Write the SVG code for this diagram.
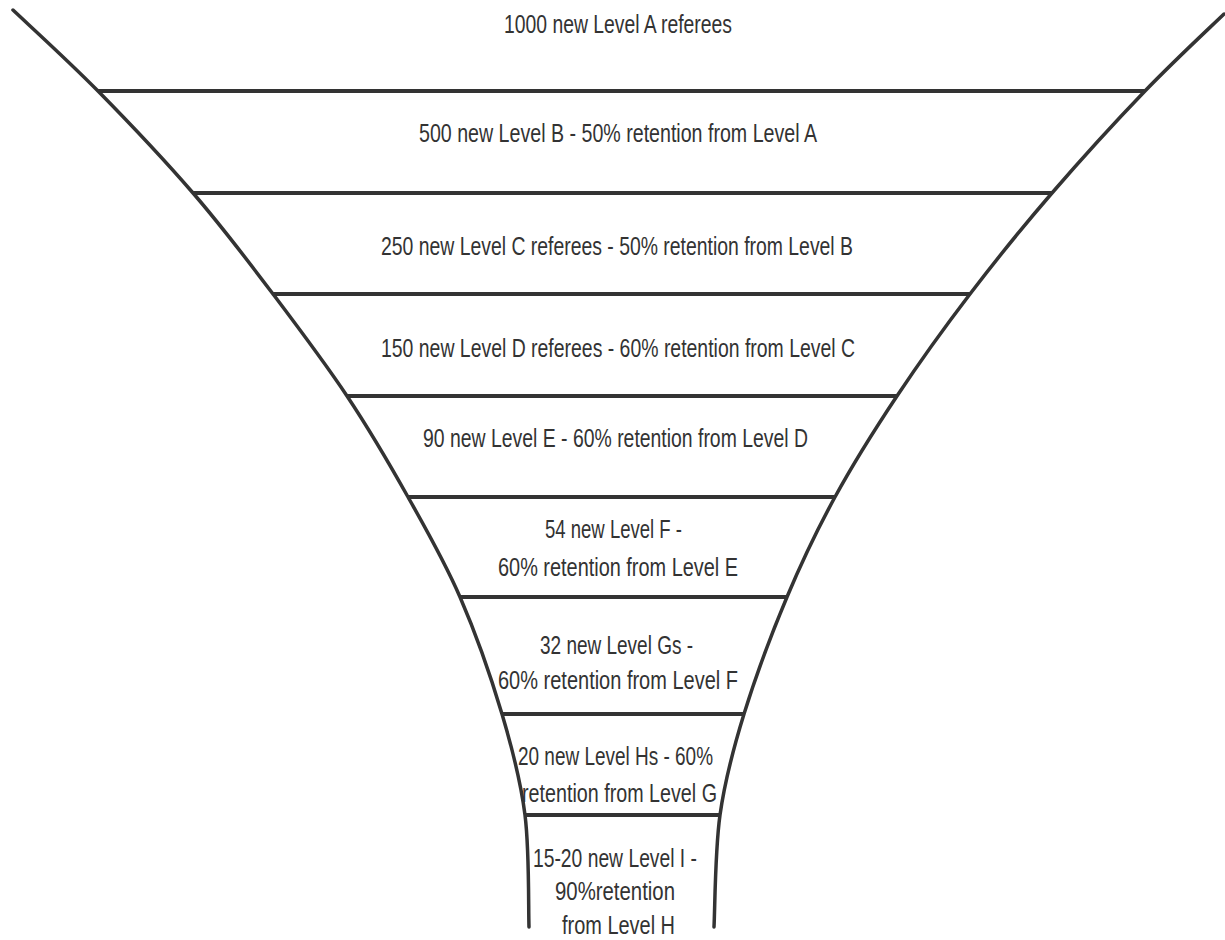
<svg xmlns="http://www.w3.org/2000/svg" width="1225" height="940" viewBox="0 0 1225 940">
<style>
.edge{fill:none;stroke:#333;stroke-width:3.5;stroke-linecap:round}
.div{stroke:#333;stroke-width:4}
.t{font-family:"Liberation Sans Narrow","Liberation Sans",Arial,sans-serif;font-size:26px;fill:#333}
</style>
<rect width="1225" height="940" fill="#fff"/>
<g id="funnel-outline">
<path class="edge" d="M13,10 C27.2,23.5 68,60.5 98,91 C128,121.5 163.8,159.2 193,193 C222.2,226.8 247.5,260.2 273,294 C298.5,327.8 324.5,362.2 347,396 C369.5,429.8 389.2,463.5 408,497 C426.8,530.5 444.3,560.8 460,597 C475.7,633.2 491.2,677.7 502,714 C512.8,750.3 520.5,779.5 525,815 C529.5,850.5 528.3,908.3 529,927"/>
<path class="edge" d="M1224,14 C1210.8,26.8 1173.7,61.2 1145,91 C1116.3,120.8 1081.2,159.2 1052,193 C1022.8,226.8 995.8,260.2 970,294 C944.2,327.8 919.5,362.2 897,396 C874.5,429.8 853.3,463.5 835,497 C816.7,530.5 802.2,560.8 787,597 C771.8,633.2 755.2,677.7 744,714 C732.8,750.3 725,779.5 720,815 C715,850.5 715,908.3 714,927"/>
</g>
<g id="connectors">
<line class="div" x1="98" y1="91" x2="1145" y2="91"/>
<line class="div" x1="193" y1="193" x2="1052" y2="193"/>
<line class="div" x1="273" y1="294" x2="970" y2="294"/>
<line class="div" x1="347" y1="396" x2="897" y2="396"/>
<line class="div" x1="408" y1="497" x2="835" y2="497"/>
<line class="div" x1="460" y1="597" x2="787" y2="597"/>
<line class="div" x1="502" y1="714" x2="744" y2="714"/>
<line class="div" x1="525" y1="815" x2="720" y2="815"/>
</g>
<g id="level-a"><text class="t" x="504" y="33" textLength="228" lengthAdjust="spacingAndGlyphs">1000 new Level A referees</text></g>
<g id="level-b"><text class="t" x="419" y="142" textLength="398" lengthAdjust="spacingAndGlyphs">500 new Level B - 50% retention from Level A</text></g>
<g id="level-c"><text class="t" x="381" y="255" textLength="472" lengthAdjust="spacingAndGlyphs">250 new Level C referees - 50% retention from Level B</text></g>
<g id="level-d"><text class="t" x="381" y="357" textLength="474" lengthAdjust="spacingAndGlyphs">150 new Level D referees - 60% retention from Level C</text></g>
<g id="level-e"><text class="t" x="423" y="447" textLength="385" lengthAdjust="spacingAndGlyphs">90 new Level E - 60% retention from Level D</text></g>
<g id="level-f">
<text class="t" x="545" y="538" textLength="137" lengthAdjust="spacingAndGlyphs">54 new Level F -</text>
<text class="t" x="498" y="576" textLength="240" lengthAdjust="spacingAndGlyphs">60% retention from Level E</text>
</g>
<g id="level-g">
<text class="t" x="540" y="654" textLength="153" lengthAdjust="spacingAndGlyphs">32 new Level Gs -</text>
<text class="t" x="498" y="689" textLength="240" lengthAdjust="spacingAndGlyphs">60% retention from Level F</text>
</g>
<g id="level-h">
<text class="t" x="518" y="765" textLength="195" lengthAdjust="spacingAndGlyphs">20 new Level Hs - 60%</text>
<text class="t" x="522" y="802" textLength="195" lengthAdjust="spacingAndGlyphs">retention from Level G</text>
</g>
<g id="level-i">
<text class="t" x="533" y="867" textLength="164" lengthAdjust="spacingAndGlyphs">15-20 new Level I -</text>
<text class="t" x="555" y="900" textLength="120" lengthAdjust="spacingAndGlyphs">90%retention</text>
<text class="t" x="562" y="934" textLength="113" lengthAdjust="spacingAndGlyphs">from Level H</text>
</g>
</svg>
